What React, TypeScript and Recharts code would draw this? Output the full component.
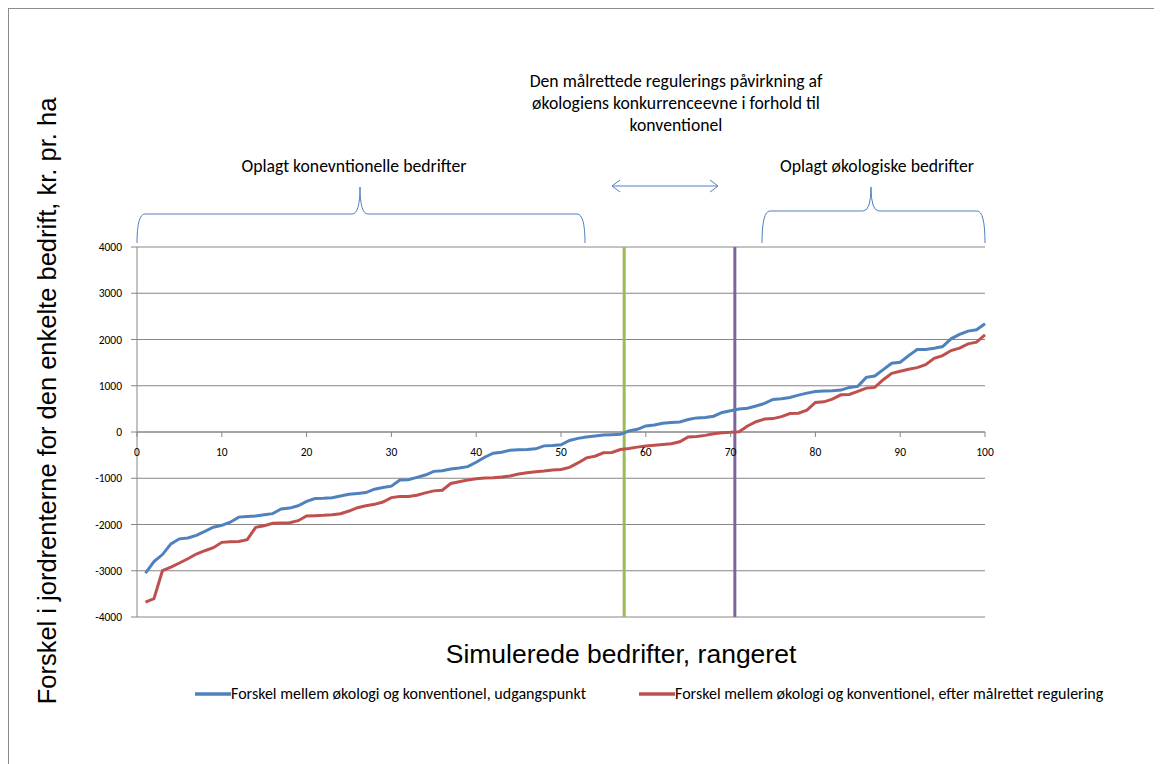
import { LineChart, Line, XAxis, YAxis, CartesianGrid, ReferenceLine } from 'recharts'

// Forskel mellem økologi og konventionel, udgangspunkt (rank 1..100)
const udgangspunkt = [
  -3050, -2800, -2650, -2420, -2310, -2290, -2235, -2150, -2060, -2020,
  -1950, -1840, -1825, -1815, -1790, -1765, -1665, -1645, -1595, -1500,
  -1440, -1435, -1420, -1385, -1348, -1330, -1310, -1236, -1200, -1171,
  -1040, -1033, -982, -931, -851, -836, -800, -778, -749, -655,
  -545, -458, -436, -393, -385, -378, -364, -300, -291, -275,
  -182, -138, -109, -87, -65, -58, -51, 22, 58, 131,
  153, 189, 204, 218, 269, 305, 313, 342, 422, 458,
  495, 512, 562, 617, 703, 717, 746, 797, 841, 877,
  884, 891, 906, 964, 986, 1181, 1210, 1348, 1486, 1507,
  1652, 1783, 1783, 1812, 1848, 2014, 2109, 2181, 2210, 2341,
]

// Forskel mellem økologi og konventionel, efter målrettet regulering
const efterRegulering = [
  -3677, -3605, -2999, -2920, -2833, -2740, -2639, -2567, -2502, -2386,
  -2372, -2365, -2329, -2062, -2026, -1975, -1968, -1961, -1918, -1817,
  -1810, -1802, -1788, -1766, -1709, -1636, -1593, -1564, -1513, -1418,
  -1396, -1396, -1367, -1316, -1273, -1258, -1113, -1076, -1040, -1011,
  -996, -989, -975, -953, -909, -880, -858, -845, -820, -812,
  -764, -669, -560, -524, -451, -444, -378, -356, -327, -305,
  -284, -269, -255, -211, -109, -95, -73, -36, -15, -7,
  7, 130, 222, 280, 290, 333, 399, 406, 471, 638,
  652, 710, 804, 812, 877, 949, 964, 1130, 1268, 1312,
  1355, 1391, 1457, 1594, 1652, 1761, 1812, 1906, 1942, 2101,
]

const xTicks = [0, 10, 20, 30, 40, 50, 60, 70, 80, 90, 100]
const yTicks = [-4000, -3000, -2000, -1000, 0, 1000, 2000, 3000, 4000]

// the two vertical marker lines (rank positions)
const greenMarkerX = 57.45
const purpleMarkerX = 70.5

const series = [
  { key: 'udgangspunkt', name: 'Forskel mellem økologi og konventionel, udgangspunkt', color: '#4F81BD' },
  { key: 'efter', name: 'Forskel mellem økologi og konventionel, efter målrettet regulering', color: '#C0504D' },
]

const rows = udgangspunkt.map((v, i) => ({
  rank: i + 1,
  udgangspunkt: v,
  efter: efterRegulering[i],
}))

const W = 1154
const H = 756
const MARGIN = { top: 239, right: 177, bottom: 117, left: 69 }
const Y_AXIS_W = 60
const X_AXIS_H = 30
const PLOT_H = H - MARGIN.top - MARGIN.bottom - X_AXIS_H
const Y_MIN = -4000
const Y_MAX = 4000
const ZERO_Y = MARGIN.top + (PLOT_H * Y_MAX) / (Y_MAX - Y_MIN)

const AXIS = '#868686'
const FONT = "Carlito, 'Liberation Sans', Arial, sans-serif"
const ARIAL = "'Liberation Sans', Arial, sans-serif"

function ZeroAxisTick(props: any) {
  const { x, payload } = props
  return (
    <g>
      <line x1={x} x2={x} y1={ZERO_Y} y2={ZERO_Y + 5} stroke={AXIS} />
      <text x={x} y={ZERO_Y + 20} dy="0.35em" textAnchor="middle" fontSize={11.5} fill="#000" fontFamily={FONT}>
        {payload.value}
      </text>
    </g>
  )
}

export default function App() {
  return (
    <div style={{ position: 'relative', width: W, height: H, fontFamily: FONT }}>
      <div
        style={{
          position: 'absolute',
          left: 0,
          top: 0,
          width: W,
          height: H,
          borderLeft: '1px solid #8c8c8c',
          borderTop: '1px solid #8c8c8c',
          boxSizing: 'border-box',
        }}
      />
      <LineChart width={W} height={H} data={rows} margin={MARGIN} style={{ position: 'absolute', left: 0, top: 0 }}>
        <CartesianGrid vertical={false} stroke={AXIS} />
        <XAxis
          dataKey="rank"
          type="number"
          domain={[0, 100]}
          ticks={xTicks}
          height={X_AXIS_H}
          axisLine={false}
          tickLine={false}
          tick={<ZeroAxisTick />}
          interval={0}
        />
        <YAxis
          type="number"
          domain={[Y_MIN, Y_MAX]}
          ticks={yTicks}
          width={Y_AXIS_W}
          stroke={AXIS}
          tickSize={6}
          tickMargin={9}
          interval={0}
          tick={{ fontSize: 11.5, fill: '#000', fontFamily: FONT }}
        />
        <ReferenceLine y={0} stroke={AXIS} />
        <ReferenceLine x={greenMarkerX} stroke="#9BBB59" strokeWidth={3} />
        <ReferenceLine x={purpleMarkerX} stroke="#8064A2" strokeWidth={3} />
        {series.map((s) => (
          <Line
            key={s.key}
            dataKey={s.key}
            name={s.name}
            stroke={s.color}
            strokeWidth={3}
            dot={false}
            type="linear"
            isAnimationActive={false}
          />
        ))}
      </LineChart>

      {/* braces and arrow (page coords shifted by body margin) */}
      <svg width={W} height={H} style={{ position: 'absolute', left: 0, top: 0, pointerEvents: 'none' }}>
        <g transform="translate(-8,-8)" fill="none" stroke="#4F81BD" strokeWidth={1}>
          <path d="M137,243 Q137,214 145,214 L352,214 Q360,214 360,187 Q360,214 368,214 L577,214 Q585,214 585,243" />
          <path d="M762,243 Q762,211 770,211 L863,211 Q871,211 871,187 Q871,211 879,211 L977,211 Q985,211 985,243" />
          <path d="M612,186 L718,186 M620,180 L612,186 L620,192 M710,180 L718,186 L710,192" />
        </g>
      </svg>

      <div
        style={{
          position: 'absolute',
          left: 676 - 8 - 200,
          top: 70 - 8,
          width: 400,
          textAlign: 'center',
          fontSize: 17.7,
          lineHeight: '22px',
        }}
      >
        Den målrettede regulerings påvirkning af
        <br />
        økologiens konkurrenceevne i forhold til
        <br />
        konventionel
      </div>
      <div
        style={{ position: 'absolute', left: 354 - 8 - 150, top: 155 - 8, width: 300, textAlign: 'center', fontSize: 17.7, lineHeight: '22px' }}
      >
        Oplagt konevntionelle bedrifter
      </div>
      <div
        style={{ position: 'absolute', left: 877 - 8 - 150, top: 155 - 8, width: 300, textAlign: 'center', fontSize: 17.7, lineHeight: '22px' }}
      >
        Oplagt økologiske bedrifter
      </div>

      <div
        style={{
          position: 'absolute',
          left: 621 - 8 - 250,
          top: 639 - 8,
          width: 500,
          textAlign: 'center',
          fontSize: 26.5,
          lineHeight: '30px',
          fontFamily: ARIAL,
        }}
      >
        Simulerede bedrifter, rangeret
      </div>

      <div
        style={{
          position: 'absolute',
          left: 48 - 8,
          top: 401 - 8,
          transform: 'translate(-50%, -50%) rotate(-90deg)',
          whiteSpace: 'nowrap',
          fontFamily: ARIAL,
          fontSize: 25.5,
          lineHeight: 1,
        }}
      >
        Forskel i jordrenterne for den enkelte bedrift, kr. pr. ha
      </div>

      <div
        style={{
          position: 'absolute',
          left: 195 - 8,
          top: 684 - 8,
          display: 'flex',
          gap: 53,
          fontSize: 16,
          lineHeight: '20px',
          whiteSpace: 'nowrap',
        }}
      >
        {series.map((s) => (
          <div key={s.key} style={{ display: 'flex', alignItems: 'center' }}>
            <svg width={36} height={20}>
              <line x1={0} x2={36} y1={10} y2={10} stroke={s.color} strokeWidth={3.5} />
            </svg>
            <span>{s.name}</span>
          </div>
        ))}
      </div>
    </div>
  )
}
